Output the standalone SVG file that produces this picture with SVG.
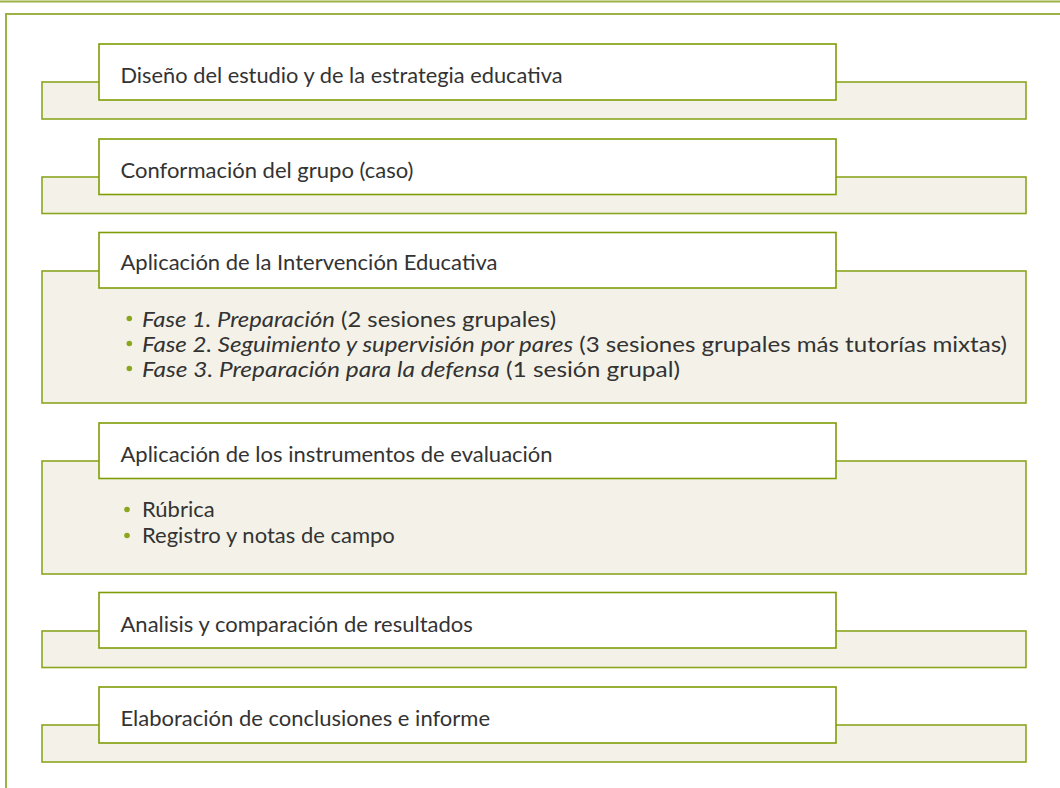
<svg xmlns="http://www.w3.org/2000/svg" width="1060" height="788" viewBox="0 0 1060 788">
<style>
.frame{fill:none;stroke:#9bb244;stroke-width:2}
.band{fill:#f4f2e8;stroke:#8ba620;stroke-width:1.6}
.head{fill:#ffffff;stroke:#7f9d06;stroke-width:1.6}
.t{font-family:Lato,"Open Sans",sans-serif;font-size:22px;fill:#333333}
.i{font-style:italic}
.dot{fill:#8aa51e}
</style>
<rect width="1060" height="788" fill="#ffffff"/>
<g id="frame">
<line class="frame" x1="0" y1="1.5" x2="1060" y2="1.5"/>
<polyline class="frame" points="1060,14 6,14 6,788"/>
</g>
<g id="connectors"></g>
<g id="n1">
<rect class="band" x="42" y="82" width="984" height="37"/>
<rect class="head" x="99" y="44" width="737" height="56"/>
<text class="t" x="120.5" y="83" textLength="442" lengthAdjust="spacingAndGlyphs">Diseño del estudio y de la estrategia educativa</text>
</g>
<g id="n2">
<rect class="band" x="42" y="177" width="984" height="36.5"/>
<rect class="head" x="99" y="139" width="737" height="55.5"/>
<text class="t" x="120.5" y="178">Conformación del grupo (caso)</text>
</g>
<g id="n3">
<rect class="band" x="42" y="271" width="984" height="132"/>
<rect class="head" x="99" y="232.5" width="737" height="55.5"/>
<text class="t" x="120.5" y="269.5">Aplicación de la Intervención Educativa</text>
<circle class="dot" cx="129.3" cy="318.5" r="2.8"/>
<circle class="dot" cx="129.3" cy="343.5" r="2.8"/>
<circle class="dot" cx="129.3" cy="368.5" r="2.8"/>
<text class="t" x="142" y="326.7" textLength="414" lengthAdjust="spacingAndGlyphs"><tspan class="i">Fase 1. Preparación</tspan> (2 sesiones grupales)</text>
<text class="t" x="142" y="351.7" textLength="865" lengthAdjust="spacingAndGlyphs"><tspan class="i">Fase 2. Seguimiento y supervisión por pares</tspan> (3 sesiones grupales más tutorías mixtas)</text>
<text class="t" x="142" y="376.7" textLength="538" lengthAdjust="spacingAndGlyphs"><tspan class="i">Fase 3. Preparación para la defensa</tspan> (1 sesión grupal)</text>
</g>
<g id="n4">
<rect class="band" x="42" y="461" width="984" height="113"/>
<rect class="head" x="99" y="423" width="737" height="55.5"/>
<text class="t" x="120.5" y="461.7">Aplicación de los instrumentos de evaluación</text>
<circle class="dot" cx="127" cy="509.5" r="2.8"/>
<circle class="dot" cx="127" cy="535.5" r="2.8"/>
<text class="t" x="142" y="517.3">Rúbrica</text>
<text class="t" x="142" y="543.3">Registro y notas de campo</text>
</g>
<g id="n5">
<rect class="band" x="42" y="631" width="984" height="36.5"/>
<rect class="head" x="99" y="592.5" width="737" height="55.5"/>
<text class="t" x="120.5" y="631.5">Analisis y comparación de resultados</text>
</g>
<g id="n6">
<rect class="band" x="42" y="725" width="984" height="37"/>
<rect class="head" x="99" y="687" width="737" height="56"/>
<text class="t" x="120.5" y="725.5">Elaboración de conclusiones e informe</text>
</g>
</svg>
